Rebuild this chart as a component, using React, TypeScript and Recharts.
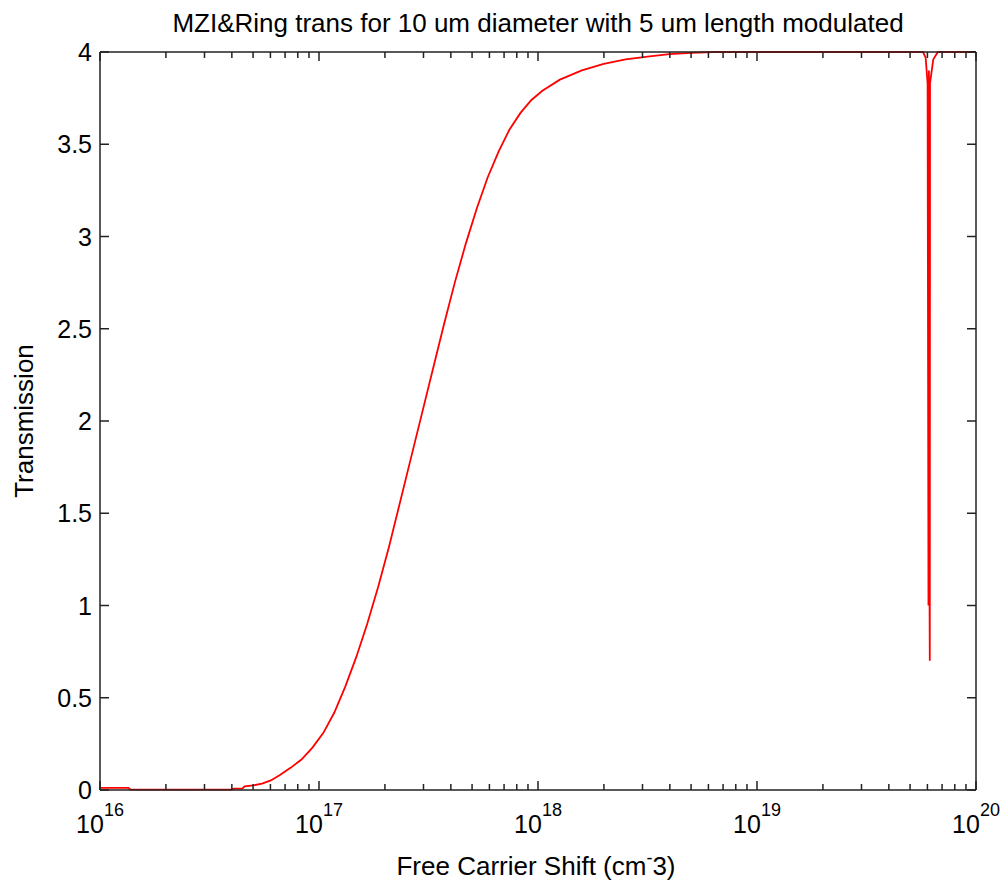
import { LineChart, Line, XAxis, YAxis } from 'recharts';

// log10 of the free carrier shift (cm^-3)
const shiftExps = [
  16.0, 16.13, 16.14, 16.3, 16.45, 16.6, 16.61, 16.65, 16.66, 16.7, 16.74, 16.78, 16.82, 16.87,
  16.92, 16.97, 17.02, 17.07, 17.12, 17.17, 17.22, 17.27, 17.32, 17.37, 17.42, 17.47, 17.52, 17.57,
  17.62, 17.67, 17.72, 17.77, 17.82, 17.87, 17.92, 17.97, 18.02, 18.1, 18.2, 18.3, 18.4, 18.5,
  18.6, 18.7, 18.8, 19.0, 19.5,
  19.758, 19.77, 19.779, 19.783, 19.785, 19.786, 19.787, 19.788, 19.789, 19.79, 19.805, 19.826, 20.0,
];
const transmission = [
  0.012, 0.012, 0.002, 0.002, 0.002, 0.002, 0.007, 0.007, 0.02, 0.025, 0.035, 0.052, 0.08, 0.12,
  0.165, 0.23, 0.31, 0.42, 0.56, 0.72, 0.9, 1.1, 1.32, 1.56, 1.8, 2.04, 2.28, 2.52,
  2.75, 2.96, 3.15, 3.32, 3.46, 3.58, 3.67, 3.74, 3.79, 3.85, 3.9, 3.935, 3.96, 3.975,
  3.988, 3.995, 4.0, 4.0, 4.0,
  4.0, 3.97, 3.83, 1.0, 3.9, 1.0, 3.85, 1.0, 0.7, 3.83, 3.96, 4.0, 4.0,
];

const decades = [16, 17, 18, 19, 20];
const minorSteps = [2, 3, 4, 5, 6, 7, 8, 9];
const yTicks = [0, 0.5, 1, 1.5, 2, 2.5, 3, 3.5, 4];

const data = shiftExps.map((e, i) => ({ x: Math.pow(10, e), y: transmission[i] }));
const xTicks = decades.flatMap((d, i) =>
  i < decades.length - 1
    ? [Math.pow(10, d), ...minorSteps.map((m) => m * Math.pow(10, d))]
    : [Math.pow(10, d)],
);

const AXIS = '#222';
const FONT = '"Liberation Sans", Arial, sans-serif';
const MAJOR = 9;
const MINOR = 6;

const isMajor = (v: number) => {
  const l = Math.log10(v);
  return Math.abs(l - Math.round(l)) < 1e-6;
};

function BottomTick({ x, y, payload }: any) {
  const major = isMajor(payload.value);
  const exp = Math.round(Math.log10(payload.value));
  return (
    <g>
      <line x1={x} y1={y} x2={x} y2={y - (major ? MAJOR : MINOR)} stroke={AXIS} strokeWidth={1.5} />
      {major && (
        <text x={x} y={y + 43} textAnchor="middle" fontFamily={FONT} fontSize={25} fill="#000">
          <tspan>10</tspan>
          <tspan dy={-17} fontSize={18}>{exp}</tspan>
        </text>
      )}
    </g>
  );
}

function TopTick({ x, y, payload }: any) {
  const major = isMajor(payload.value);
  return <line x1={x} y1={y} x2={x} y2={y + (major ? MAJOR : MINOR)} stroke={AXIS} strokeWidth={1.5} />;
}

function LeftTick({ x, y, payload }: any) {
  return (
    <g>
      <line x1={x} y1={y} x2={x + MAJOR} y2={y} stroke={AXIS} strokeWidth={1.5} />
      <text x={x - 8} y={y + 9} textAnchor="end" fontFamily={FONT} fontSize={25} fill="#000">
        {payload.value}
      </text>
    </g>
  );
}

function RightTick({ x, y }: any) {
  return <line x1={x} y1={y} x2={x - MAJOR} y2={y} stroke={AXIS} strokeWidth={1.5} />;
}

export default function App() {
  return (
    <div style={{ position: 'fixed', left: 0, top: 0, width: 1002, height: 882, background: '#fff' }}>
      <LineChart width={1002} height={882} data={data} margin={{ top: 0, right: 0, bottom: 0, left: 0 }}>
        <XAxis
          xAxisId="bottom"
          dataKey="x"
          type="number"
          scale="log"
          domain={[1e16, 1e20]}
          allowDataOverflow
          ticks={xTicks}
          interval={0}
          height={92}
          tickSize={0}
          tickMargin={0}
          tickLine={false}
          tick={<BottomTick />}
          axisLine={{ stroke: AXIS, strokeWidth: 1.5 }}
          label={{
            content: () => (
              <text x={536} y={875} textAnchor="middle" fontFamily={FONT} fontSize={26} fill="#000">
                <tspan>Free Carrier Shift (cm</tspan>
                <tspan dy={-11} fontSize={18}>-</tspan>
                <tspan dy={11}>3)</tspan>
              </text>
            ),
          }}
        />
        <XAxis
          xAxisId="top"
          orientation="top"
          dataKey="x"
          type="number"
          scale="log"
          domain={[1e16, 1e20]}
          allowDataOverflow
          ticks={xTicks}
          interval={0}
          height={52}
          tickSize={0}
          tickMargin={0}
          tickLine={false}
          tick={<TopTick />}
          axisLine={{ stroke: AXIS, strokeWidth: 1.5 }}
          label={{
            content: () => (
              <text x={538} y={32} textAnchor="middle" fontFamily={FONT} fontSize={26} fill="#000">
                MZI&amp;Ring trans for 10 um diameter with 5 um length modulated
              </text>
            ),
          }}
        />
        <YAxis
          yAxisId="left"
          type="number"
          domain={[0, 4]}
          ticks={yTicks}
          interval={0}
          width={100}
          tickSize={0}
          tickMargin={0}
          tickLine={false}
          tick={<LeftTick />}
          axisLine={{ stroke: AXIS, strokeWidth: 1.5 }}
          label={{
            content: () => (
              <text
                x={24}
                y={421}
                textAnchor="middle"
                dominantBaseline="central"
                transform="rotate(-90, 24, 421)"
                fontFamily={FONT}
                fontSize={26}
                fill="#000"
              >
                Transmission
              </text>
            ),
          }}
        />
        <YAxis
          yAxisId="right"
          orientation="right"
          type="number"
          domain={[0, 4]}
          ticks={yTicks}
          interval={0}
          width={26}
          tickSize={0}
          tickMargin={0}
          tickLine={false}
          tick={<RightTick />}
          axisLine={{ stroke: AXIS, strokeWidth: 1.5 }}
        />
        <Line
          xAxisId="top"
          yAxisId="right"
          dataKey="y"
          stroke="none"
          dot={false}
          activeDot={false}
          isAnimationActive={false}
        />
        <Line
          xAxisId="bottom"
          yAxisId="left"
          type="linear"
          dataKey="y"
          stroke="#ff0000"
          strokeWidth={1.8}
          dot={false}
          activeDot={false}
          isAnimationActive={false}
        />
      </LineChart>
    </div>
  );
}
